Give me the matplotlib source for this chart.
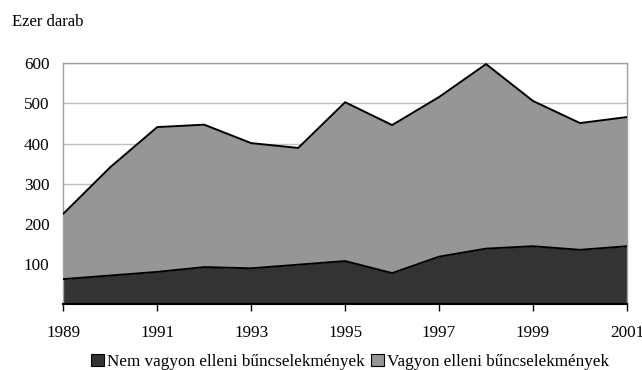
import matplotlib
matplotlib.use("Agg")
import matplotlib.pyplot as plt
import numpy as np
from matplotlib.patches import Patch

years = [1989, 1990, 1991, 1992, 1993, 1994, 1995, 1996, 1997, 1998, 1999, 2000, 2001]
nem_vagyon = [62, 71, 80, 92, 89, 98, 107, 77, 118, 138, 144, 135, 144]
vagyon = [163, 270, 361, 355, 312, 291, 396, 369, 398, 460, 362, 316, 322]
labels = ["Nem vagyon elleni bűncselekmények", "Vagyon elleni bűncselekmények"]
yticks = [100, 200, 300, 400, 500, 600]
xticks = [1989, 1991, 1993, 1995, 1997, 1999, 2001]

plt.rcParams['font.family'] = ['Liberation Serif', 'DejaVu Serif']
FS = 12.3

fig = plt.figure(figsize=(6.42, 3.70), dpi=100)
ax = fig.add_axes([63.3/642, 1-304/370, (627-63.3)/642, (304-63.3)/370])

dark = '#333333'
gray = '#969696'
y = np.array(years)
b = np.array(nem_vagyon)
t = b + np.array(vagyon)

ax.fill_between(y, 0, b, color=dark, linewidth=0, zorder=2)
ax.fill_between(y, b, t, color=gray, linewidth=0, zorder=2)
ax.plot(y, b, color='black', lw=1.4, zorder=3)
ax.plot(y, t, color='black', lw=1.4, zorder=3)

ax.set_xlim(1989, 2001)
ax.set_ylim(0, 600)
ax.set_yticks(yticks)
ax.set_xticks(xticks)
ax.set_xticklabels([str(v) for v in xticks])
ax.yaxis.grid(True, color='#c0c0c0', lw=1.0, zorder=0)
ax.set_axisbelow(True)
ax.tick_params(axis='y', length=0, pad=10, labelsize=FS)
ax.tick_params(axis='x', length=5, width=1, direction='out', pad=10, labelsize=FS)
for s in ['top', 'right', 'left']:
    ax.spines[s].set_color('#a0a0a0')
    ax.spines[s].set_linewidth(1.0)
ax.spines['bottom'].set_color('black')
ax.spines['bottom'].set_linewidth(1.5)
ax.spines['bottom'].set_zorder(4)

fig.text(12/642, 1-22/370, "Ezer darab", fontsize=12, ha='left', va='center')

handles = [Patch(facecolor=dark, edgecolor='black', lw=0.8),
           Patch(facecolor=gray, edgecolor='black', lw=0.8)]
fig.legend(handles, labels, loc='center', bbox_to_anchor=(350/642, 1-362/370),
           ncol=2, frameon=False, fontsize=FS, handlelength=0.75, handleheight=0.75,
           handletextpad=0.15, columnspacing=0.4, borderpad=0)

fig.savefig("out.png", dpi=100)
